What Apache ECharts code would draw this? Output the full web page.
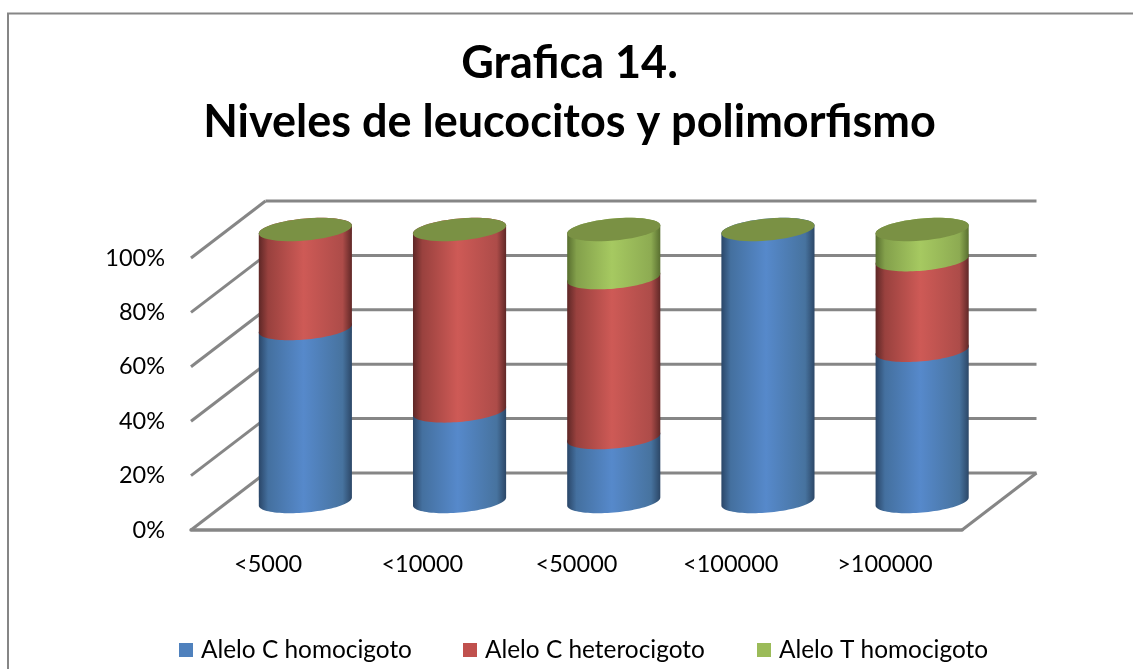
<!DOCTYPE html>
<html>
<head>
<meta charset="utf-8">
<style>html,body{margin:0;padding:0;background:#fff}#chart{width:1133px;height:669px}</style>
<script src="https://cdn.jsdelivr.net/npm/echarts@6/dist/echarts.min.js"></script>
</head>
<body>
<div id="chart"></div>
<script>
var categories = ['<5000', '<10000', '<50000', '<100000', '>100000'];
var alleleCHomo = [63.6, 33.3, 23.5, 100, 55.6];
var alleleCHetero = [36.4, 66.7, 58.8, 0, 33.3];
var alleleTHomo = [0, 0, 17.7, 0, 11.1];
var yTicks = [0, 20, 40, 60, 80, 100];
var seriesNames = ['Alelo C homocigoto', 'Alelo C heterocigoto', 'Alelo T homocigoto'];
var stacks = [alleleCHomo, alleleCHetero, alleleTHomo];

var DEPTH_X = 74.5, DEPTH_Y = -57;
var LINE = '#868686';

function grad(edgeL, low, mid, high, edgeR) {
  return new echarts.graphic.LinearGradient(0, 0, 1, 0, [
    {offset: 0, color: edgeL}, {offset: 0.1, color: low},
    {offset: 0.48, color: mid}, {offset: 0.9, color: high}, {offset: 1, color: edgeR}
  ]);
}
var bodyFills = [
  grad('#2a4668', '#44709f', '#5689CB', '#47739f', '#2c4767'),
  grad('#5e2726', '#99413e', '#CE5A56', '#ad4c49', '#602827'),
  grad('#586e2f', '#83a04b', '#A6C961', '#8dab52', '#596f30')
];
var capColor = '#7A9144';
var legendColors = ['#4F81BD', '#C0504D', '#9BBB59'];
var legendLefts = [174, 458, 752];

function ellipsePts(cx, cy, a, b, s, from, to) {
  var pts = [], n = 48;
  for (var i = 0; i <= n; i++) {
    var t = from + (to - from) * i / n;
    pts.push([cx + a * Math.cos(t), cy + b * Math.sin(t) - s * Math.cos(t)]);
  }
  return pts;
}

function cylinderRenderer(seriesIdx) {
  return function (params, api) {
    var idx = api.value(0);
    var base = 0;
    for (var k = 0; k < seriesIdx; k++) base += stacks[k][idx];
    var val = stacks[seriesIdx][idx];
    var band = api.size([1, 0])[0];
    var a = band * 0.302, b = 11, s = 4;
    var p0 = api.coord([idx, base]);
    var p1 = api.coord([idx, base + val]);
    var cx = p0[0] + DEPTH_X / 2;
    var y0 = p0[1] + DEPTH_Y / 2;
    var y1 = p1[1] + DEPTH_Y / 2;
    var children = [];
    if (val > 0) {
      var pts = ellipsePts(cx, y0, a, b, s, Math.PI, 0)
        .concat(ellipsePts(cx, y1, a, b, s, 0, -Math.PI));
      children.push({type: 'polygon', shape: {points: pts}, style: {fill: bodyFills[seriesIdx]}});
    }
    if (seriesIdx === 2) {
      var topY = api.coord([idx, 100])[1] + DEPTH_Y / 2;
      children.push({
        type: 'polygon',
        shape: {points: ellipsePts(cx, topY, a, b, s, 0, 2 * Math.PI)},
        style: {fill: capColor}
      });
    }
    return {type: 'group', children: children};
  };
}

function wallRenderer(params, api) {
  var v = api.value(0);
  var p = api.coord([0, v]);
  var x0 = params.coordSys.x, x1 = x0 + params.coordSys.width;
  var y = p[1];
  var st = {stroke: LINE, lineWidth: 3, fill: null};
  var children = [
    {type: 'line', shape: {x1: x0, y1: y, x2: x0 + DEPTH_X, y2: y + DEPTH_Y}, style: st},
    {type: 'line', shape: {x1: x0 + DEPTH_X, y1: y + DEPTH_Y, x2: x1 + DEPTH_X, y2: y + DEPTH_Y}, style: st}
  ];
  if (v === 0) {
    children.push({type: 'line', shape: {x1: x1, y1: y, x2: x1 + DEPTH_X, y2: y + DEPTH_Y}, style: st});
  }
  return {type: 'group', children: children};
}

var catData = categories.map(function (c, i) { return [i]; });

var series = [{
  type: 'custom', name: 'paredes', silent: true,
  renderItem: wallRenderer,
  data: yTicks.map(function (t) { return [t]; }),
  encode: {y: 0}
}];
seriesNames.forEach(function (n, i) {
  series.push({
    type: 'custom', name: n, silent: true,
    renderItem: cylinderRenderer(i),
    itemStyle: {color: legendColors[i]},
    data: catData,
    encode: {x: 0}
  });
});

var chart = echarts.init(document.getElementById('chart'), null, {renderer: 'canvas'});
chart.setOption({
  animation: false,
  backgroundColor: '#fff',
  textStyle: {fontFamily: 'Lato'},
  title: {
    text: 'Grafica 14.\nNiveles de leucocitos y polimorfismo',
    left: 564.5, top: 29, textAlign: 'center',
    textStyle: {fontFamily: 'Lato', fontSize: 45, fontWeight: 'bold', color: '#000', lineHeight: 59}
  },
  legend: seriesNames.map(function (n, i) {
    return {
      data: [{name: n, icon: 'rect'}],
      left: legendLefts[i], top: 633, itemWidth: 14, itemHeight: 14,
      selectedMode: false,
      textStyle: {fontFamily: 'Lato', fontSize: 24.4, color: '#000', padding: [0, 0, 0, 3]}
    };
  }),
  grid: {left: 191, right: 171, top: 258, height: 272},
  xAxis: {
    type: 'category', data: categories,
    axisLine: {show: true, lineStyle: {color: LINE, width: 3.5}},
    axisTick: {show: false},
    axisLabel: {fontFamily: 'Lato', fontSize: 23.5, color: '#000', margin: 22}
  },
  yAxis: {
    type: 'value', min: 0, max: 100, interval: 20,
    axisLine: {show: false}, axisTick: {show: false}, splitLine: {show: false},
    axisLabel: {fontFamily: 'Lato', fontSize: 23.5, color: '#000', margin: 26, formatter: '{value}%'}
  },
  graphic: [{
    type: 'polyline', silent: true,
    shape: {points: [[8, 669], [8, 13.5], [1133, 13.5]]},
    style: {stroke: '#868686', lineWidth: 2, fill: null}
  }],
  series: series
});
</script>
</body>
</html>
